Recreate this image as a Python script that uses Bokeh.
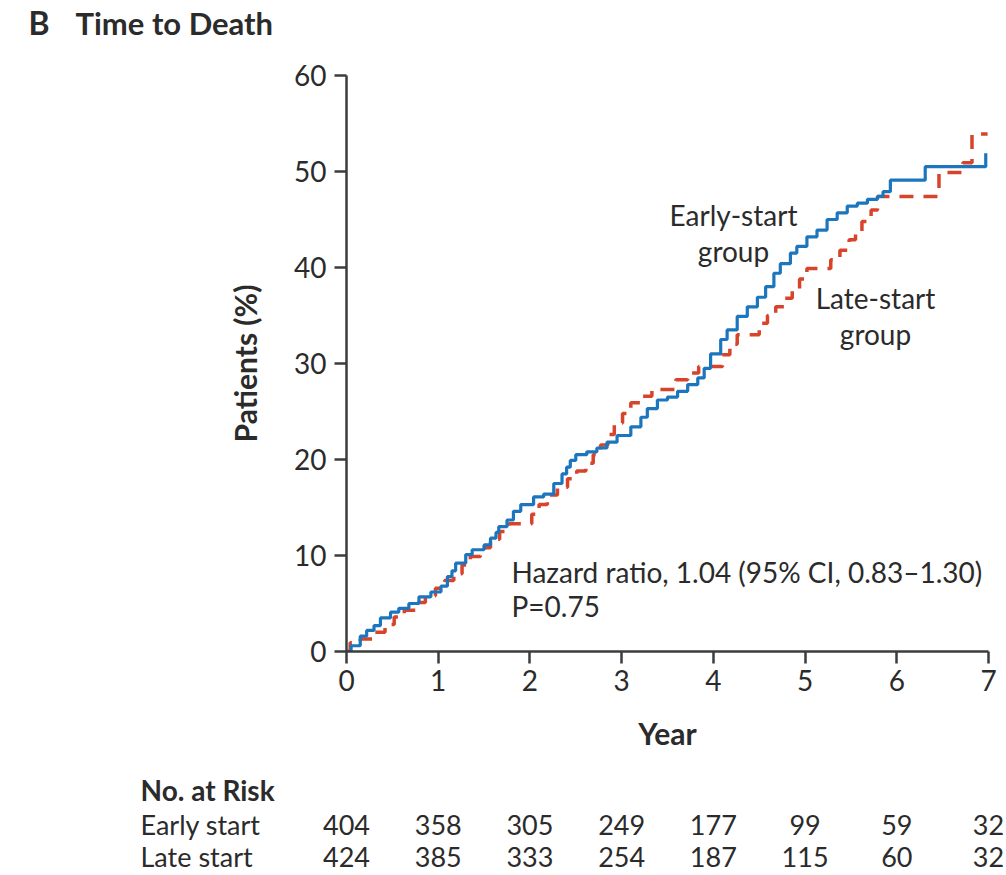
from bokeh.plotting import figure
from bokeh.layouts import column
from bokeh.models import Range1d, Label, FixedTicker, ColumnDataSource
from bokeh.core.properties import value
from bokeh.embed import file_html
from bokeh.resources import INLINE

# Number at risk at each year
years = [0, 1, 2, 3, 4, 5, 6, 7]
early_at_risk = [404, 358, 305, 249, 177, 99, 59, 32]
late_at_risk = [424, 385, 333, 254, 187, 115, 60, 32]

# Cumulative mortality (%) — early-start group
early_t = [0, 0.05, 0.15, 0.22, 0.30, 0.37, 0.48, 0.57, 0.68, 0.79, 0.92, 1.03, 1.10,
           1.15, 1.19, 1.30, 1.37, 1.50, 1.57, 1.63, 1.66, 1.75, 1.82, 1.90, 2.04, 2.15,
           2.26, 2.35, 2.40, 2.44, 2.50, 2.62, 2.73, 2.84, 2.95, 3.10, 3.21, 3.28, 3.39,
           3.50, 3.61, 3.72, 3.83, 3.90, 3.97, 4.08, 4.15, 4.26, 4.37, 4.48, 4.57, 4.66,
           4.73, 4.84, 4.91, 5.02, 5.13, 5.24, 5.35, 5.46, 5.57, 5.68, 5.79, 5.85, 5.93,
           6.31, 6.97]
early_pct = [0, 0.6, 1.6, 2.2, 2.7, 3.5, 4.1, 4.5, 5.0, 5.7, 6.2, 6.8, 7.8,
             8.4, 9.2, 10.1, 10.6, 11.1, 11.8, 12.4, 13.0, 13.7, 14.6, 15.3, 16.1, 16.4,
             17.5, 18.5, 19.2, 19.9, 20.5, 20.8, 21.2, 21.8, 22.5, 23.4, 24.4, 25.3, 26.2,
             26.5, 27.1, 27.8, 28.5, 29.5, 31.0, 32.5, 33.5, 34.9, 35.9, 36.9, 38.0, 39.4,
             40.4, 41.5, 42.2, 43.2, 43.9, 45.0, 45.7, 46.4, 46.7, 47.1, 47.4, 47.9, 49.1,
             50.5, 51.9]

# Cumulative mortality (%) — late-start group
late_t = [0, 0.04, 0.15, 0.30, 0.42, 0.52, 0.63, 0.75, 0.86, 0.97, 1.07, 1.17, 1.26,
          1.35, 1.46, 1.57, 1.67, 1.77, 2.02, 2.10, 2.19, 2.30, 2.41, 2.51, 2.61, 2.69,
          2.77, 2.85, 2.92, 3.01, 3.10, 3.22, 3.33, 3.59, 3.72, 3.84, 4.10, 4.18, 4.26,
          4.50, 4.59, 4.68, 4.77, 4.86, 4.94, 5.02, 5.28, 5.38, 5.48, 5.55, 5.62, 5.72,
          5.79, 6.46, 6.72, 6.82, 6.99]
late_pct = [0, 0.9, 1.3, 2.0, 2.8, 3.6, 4.3, 5.1, 5.8, 6.6, 7.4, 8.1, 9.0,
            9.9, 10.8, 11.7, 12.5, 13.3, 14.3, 15.3, 16.3, 17.1, 18.0, 18.8, 19.6, 20.5,
            21.5, 22.6, 23.8, 24.8, 25.9, 26.6, 27.3, 28.3, 29.0, 29.7, 30.9, 32.0, 33.0,
            34.2, 35.0, 35.9, 36.8, 37.7, 38.8, 39.9, 40.8, 41.8, 42.9, 43.8, 44.8, 46.0,
            47.4, 49.9, 50.9, 53.9, 53.9]

y_ticks = [0, 10, 20, 30, 40, 50, 60]

FONT = "Lato"
INK = "#2b2b2b"
AXIS = "#3c3c3c"
BLUE = "#1c76bd"
RED = "#d8432b"
FS = "28px"
FS_RISK = "27px"
FS_BOLD = "30px"

W = 1006
HEAD_H, MAIN_H, RISK_H = 50, 715, 110
LEFT, RIGHT = 346, 18


def bare_figure(height, x_range, y_range):
    f = figure(width=W, height=height, output_backend="svg", toolbar_location=None,
               x_range=x_range, y_range=y_range, min_border=0,
               x_axis_type=None, y_axis_type=None, frame_align=False)
    f.outline_line_color = None
    f.xgrid.grid_line_color = None
    f.ygrid.grid_line_color = None
    return f


def add_text(fig, text, x, y, align="left", bold=False, size=FS):
    fig.add_layout(Label(x=x, y=y, x_units="screen", y_units="screen", text=text,
                         text_font=FONT, text_font_size=size,
                         text_font_style="bold" if bold else "normal",
                         text_color=INK, text_align=align,
                         text_baseline="middle"))


# ---- panel heading ----
head = bare_figure(HEAD_H, Range1d(0, W), Range1d(0, HEAD_H))
add_text(head, "B", 28, 28, bold=True, size="32px")
add_text(head, "Time to Death", 75, 28, bold=True, size="31px")

# ---- main chart ----
p = figure(width=W, height=MAIN_H, output_backend="svg", toolbar_location=None,
           x_range=Range1d(0, 7), y_range=Range1d(0, 60),
           min_border_left=LEFT, min_border_right=RIGHT, min_border_top=25,
           min_border_bottom=114, frame_align=False)
p.outline_line_color = None
p.xgrid.grid_line_color = None
p.ygrid.grid_line_color = None

p.xaxis.ticker = FixedTicker(ticks=years)
p.yaxis.ticker = FixedTicker(ticks=y_ticks)
for ax in (p.xaxis, p.yaxis):
    ax.axis_line_color = AXIS
    ax.axis_line_width = 2.5
    ax.major_tick_line_color = AXIS
    ax.major_tick_line_width = 2.5
    ax.major_tick_in = 0
    ax.major_tick_out = 12
    ax.minor_tick_line_color = None
    ax.major_label_text_font = FONT
    ax.major_label_text_font_size = FS
    ax.major_label_text_color = INK
    ax.axis_label_text_font = FONT
    ax.axis_label_text_font_size = FS_BOLD
    ax.axis_label_text_font_style = "bold"
    ax.axis_label_text_color = INK
p.xaxis.axis_label = "Year"
p.yaxis.axis_label = "Patients (%)"
p.xaxis.major_label_standoff = 6
p.yaxis.major_label_standoff = 8
p.xaxis.axis_label_standoff = 21
p.yaxis.axis_label_standoff = 28

# Kaplan-Meier style step curves
p.step(late_t, late_pct, mode="after", line_color=RED, line_width=3.5,
       line_dash="14 10")
p.step(early_t, early_pct, mode="after", line_color=BLUE, line_width=3.2)

# Curve labels and statistics (screen offsets from the plot frame's lower-left)
add_text(p, "Early-start", 387, 437, align="center")
add_text(p, "group", 387, 401, align="center")
add_text(p, "Late-start", 529, 354, align="center")
add_text(p, "group", 529, 318, align="center")
add_text(p, "Hazard ratio, 1.04 (95% CI, 0.83\u20131.30)", 165, 80)
add_text(p, "P=0.75", 165, 46)

# ---- number-at-risk table, aligned with the year axis above ----
per_year = (W - LEFT - RIGHT) / 7
risk = bare_figure(RISK_H, Range1d(-LEFT / per_year, 7 + RIGHT / per_year),
                   Range1d(0, RISK_H))
add_text(risk, "No. at Risk", 140, 86, bold=True)
add_text(risk, "Early start", 140, 51, size=FS_RISK)
add_text(risk, "Late start", 140, 19, size=FS_RISK)

risk_src = ColumnDataSource(dict(
    x=years + years,
    y=[51] * len(years) + [19] * len(years),
    txt=[str(v) for v in early_at_risk] + [str(v) for v in late_at_risk],
))
risk.text(x="x", y="y", text="txt", source=risk_src,
          text_font=value(FONT), text_font_size=FS_RISK, text_color=INK,
          text_align="center", text_baseline="middle")

layout = column(head, p, risk, spacing=0)
open("out.html", "w").write(file_html(layout, INLINE))
